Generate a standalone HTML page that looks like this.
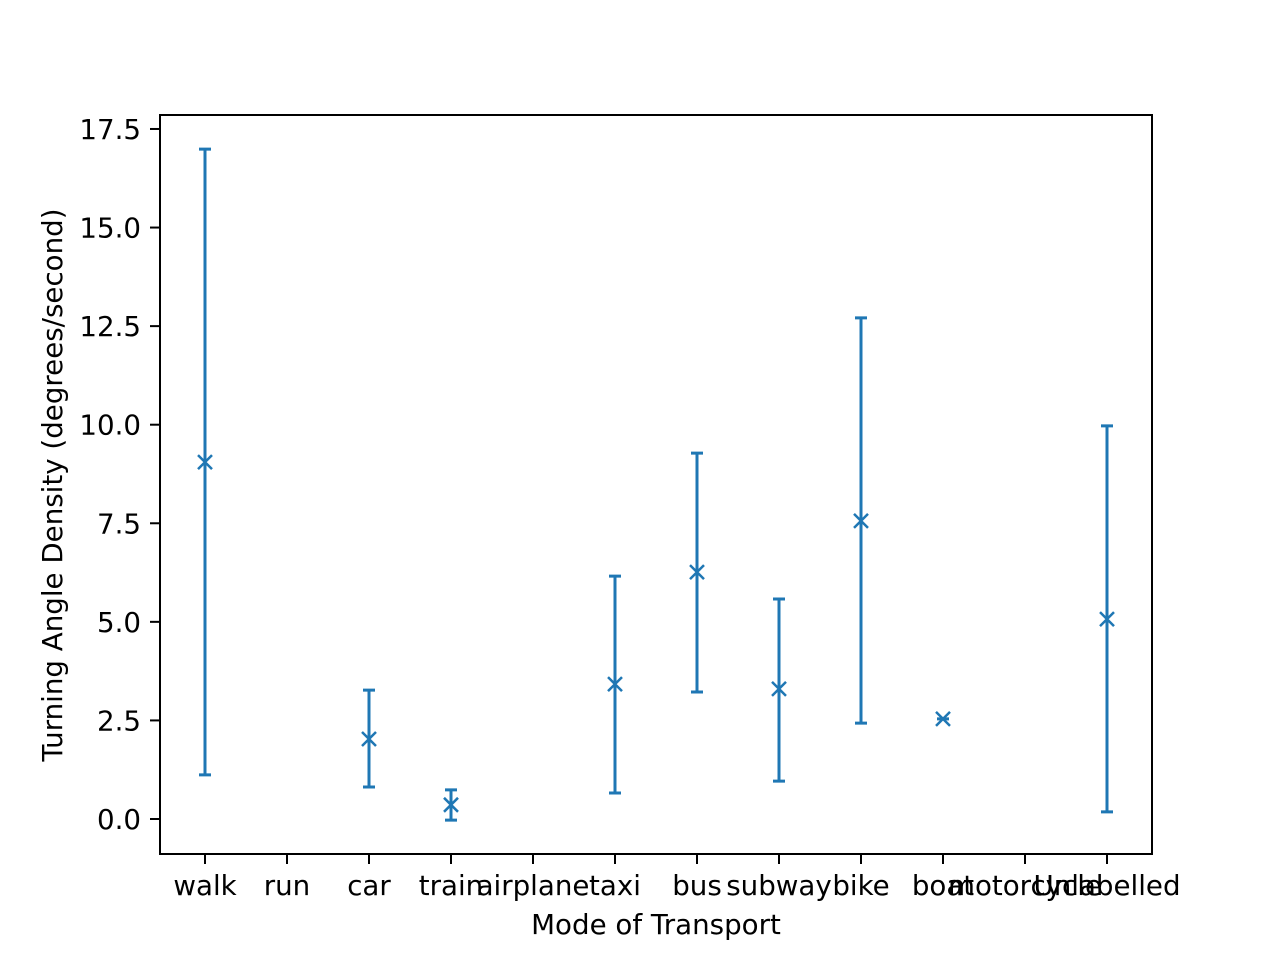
<!DOCTYPE html>
<html><head><meta charset="utf-8"><style>
body{margin:0;background:#fff}
text{font-family:"DejaVu Sans","Liberation Sans",sans-serif;font-size:27.7px;fill:#000}
</style></head><body>
<svg id="chart" width="1280" height="960" xmlns="http://www.w3.org/2000/svg">
<rect width="1280" height="960" fill="#fff"/>
<g id="plot"></g>
<rect x="160" y="115" width="992" height="739" fill="none" stroke="#000" stroke-width="2"/>
<text x="656" y="934" text-anchor="middle">Mode of Transport</text>
<text transform="translate(62,485) rotate(-90)" text-anchor="middle">Turning Angle Density (degrees/second)</text>
</svg>
<script>
const categories=["walk","run","car","train","airplane","taxi","bus","subway","bike","boat","motorcycle","Unlabelled"];
const means=[9.05,null,2.03,0.36,null,3.42,6.26,3.30,7.56,2.54,null,5.07];
const lows=[1.12,null,0.81,-0.03,null,0.66,3.22,0.96,2.43,2.54,null,0.18];
const highs=[16.99,null,3.27,0.74,null,6.16,9.28,5.58,12.71,2.54,null,9.97];
const yTicks=[0,2.5,5,7.5,10,12.5,15,17.5];
const yTickLabels=["0.0","2.5","5.0","7.5","10.0","12.5","15.0","17.5"];
const NS="http://www.w3.org/2000/svg";
const g=document.getElementById('plot');
const xs=i=>205+i*82;
const ys=v=>819-v*39.43;
const C="#1f77b4";
function mk(t,a){const e=document.createElementNS(NS,t);for(const k in a)e.setAttribute(k,a[k]);g.appendChild(e);return e;}
yTicks.forEach((v,i)=>{
 const l=mk('line',{x1:150,x2:160,y1:ys(v),y2:ys(v),stroke:'#000','stroke-width':2});
 
 
 const t=mk('text',{x:141,y:ys(v)+10,'text-anchor':'end'});t.textContent=yTickLabels[i];
 
 
});
categories.forEach((c,i)=>{
 const x=xs(i);
 const l=mk('line',{x1:x,x2:x,y1:854,y2:864,stroke:'#000','stroke-width':2});
 
 
 const t=mk('text',{x:x,y:895,'text-anchor':'middle'});t.textContent=c;
 
 
 if(means[i]==null)return;
 const y1=ys(lows[i]),y2=ys(highs[i]);
 const eb=mk('path',{d:`M${x},${y1}V${y2}M${x-6},${y1}H${x+6}M${x-6},${y2}H${x+6}`,stroke:C,'stroke-width':3,fill:'none'});
 
 
 const y=ys(means[i]);
 const m=mk('path',{d:`M${x-7},${y-7}L${x+7},${y+7}M${x-7},${y+7}L${x+7},${y-7}`,stroke:C,'stroke-width':2.5});
 
 
});
</script>
</body></html>
